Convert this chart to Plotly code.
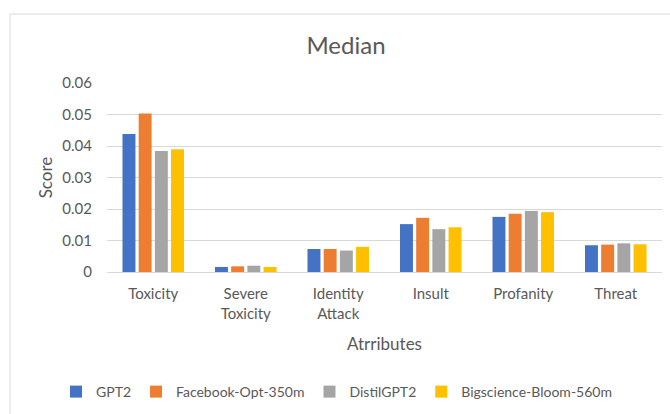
import plotly.graph_objects as go

categories = ["Toxicity", "Severe<br>Toxicity", "Identity<br>Attack", "Insult", "Profanity", "Threat"]
series_names = ["GPT2", "Facebook-Opt-350m", "DistilGPT2", "Bigscience-Bloom-560m"]
gpt2 = [0.0438, 0.0016, 0.0073, 0.0152, 0.0175, 0.0085]
opt350m = [0.0503, 0.0018, 0.0073, 0.0172, 0.0185, 0.0087]
distilgpt2 = [0.0384, 0.0020, 0.0068, 0.0136, 0.0194, 0.0091]
bloom560m = [0.0390, 0.0016, 0.0080, 0.0142, 0.0190, 0.0088]
colors = ["#4472C4", "#ED7D31", "#A5A5A5", "#FFC000"]
y_tickvals = [0, 0.01, 0.02, 0.03, 0.04, 0.05, 0.06]
y_ticktext = ["0", "0.01", "0.02", "0.03", "0.04", "0.05", "0.06"]

W, H = 670, 414
L, R, T, B = 107, 8, 83, 142
pw, ph = W - L - R, H - T - B

fig = go.Figure()
for name, vals, c in zip(series_names, [gpt2, opt350m, distilgpt2, bloom560m], colors):
    fig.add_trace(go.Bar(x=categories, y=vals, name=name, marker=dict(color=c, line=dict(width=0))))

font = "Lato, Open Sans, sans-serif"
gray = "#595959"
fig.update_layout(
    width=W, height=H,
    margin=dict(l=L, r=R, t=T, b=B, autoexpand=False),
    paper_bgcolor="white", plot_bgcolor="white",
    barmode="group", bargap=0.3, bargroupgap=0.2,
    font=dict(family=font, color=gray, size=15),
    title=dict(text="Median", x=346 / W, xref="container", xanchor="center",
               y=1 - 46 / H, yref="container", yanchor="middle",
               font=dict(size=24, color=gray, family=font)),
    xaxis=dict(showgrid=False, showline=False, ticks="", tickfont=dict(size=15, color=gray),
               ticklabelstandoff=11,
               title=dict(text="Atrributes", font=dict(size=17, color=gray), standoff=17)),
    yaxis=dict(range=[0, 0.06], tickvals=y_tickvals, ticktext=y_ticktext,
               showgrid=True, gridcolor="#D9D9D9", gridwidth=1,
               zeroline=True, zerolinecolor="#D9D9D9", zerolinewidth=1,
               showline=False, ticks="", ticklabelstandoff=14,
               tickfont=dict(size=15, color=gray),
               title=dict(text="Score", font=dict(size=17, color=gray), standoff=5)),
    legend=dict(orientation="h", xref="paper", yref="paper",
                x=(56 - L) / pw, xanchor="left", y=(H - B - 392) / ph, yanchor="middle",
                font=dict(size=14, color=gray), itemwidth=30, tracegroupgap=0),
    showlegend=True,
)

fig.add_shape(type="rect", xref="paper", yref="paper",
              x0=(10 - L) / pw, x1=(W + 20 - L) / pw,
              y0=(H - B - (H + 20)) / ph, y1=(H - B - 14) / ph,
              line=dict(color="#D9D9D9", width=1), fillcolor="rgba(0,0,0,0)", layer="below")

fig.write_html("out.html")
